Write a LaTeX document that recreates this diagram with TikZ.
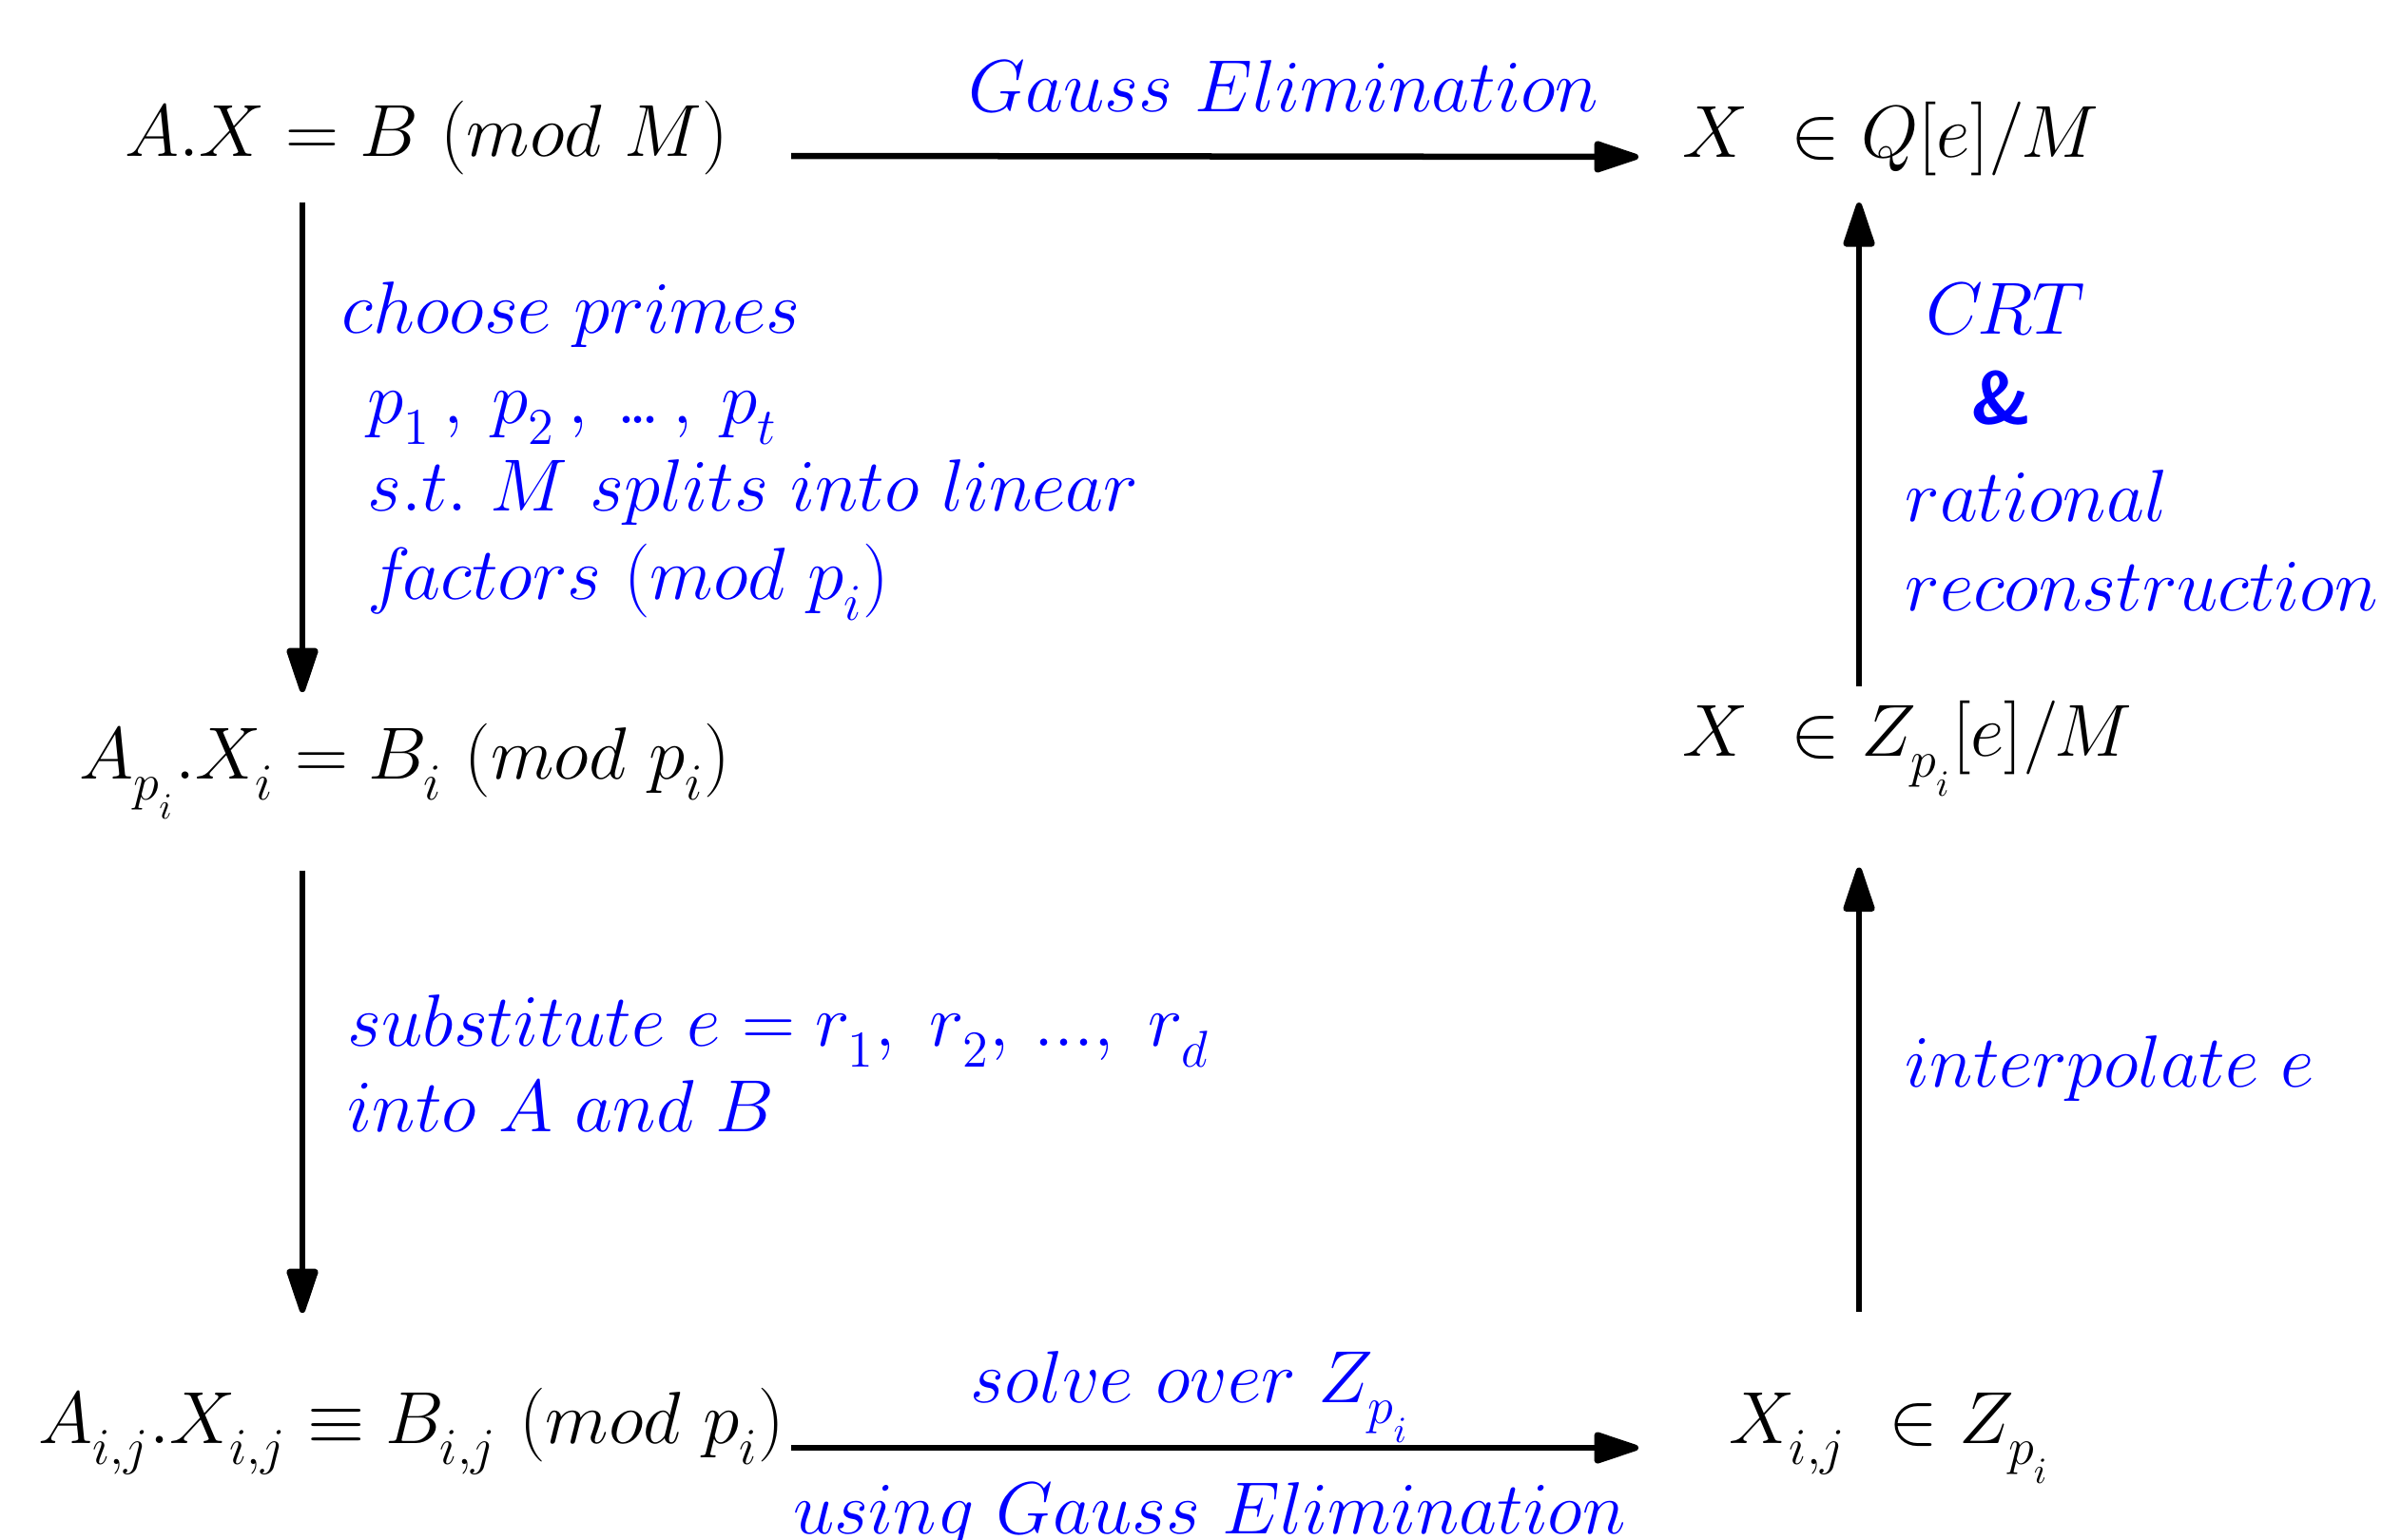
\RequirePackage{fix-cm}
\documentclass[tikz,border=0pt]{standalone}
\usetikzlibrary{arrows.meta}
% lower subscripts
\everymath{\fontdimen16\textfont2=6.5pt \fontdimen17\textfont2=6.5pt
  \fontdimen16\scriptfont2=5.7pt \fontdimen17\scriptfont2=5.7pt\relax}
\begin{document}
\begin{tikzpicture}[
    eqn/.style={inner sep=0pt, anchor=base west, font=\fontsize{22.1}{26}\selectfont},
    lbl/.style={eqn, text=blue},
    arr/.style={line width=1.85pt, -{Triangle[length=5.4mm,width=3.4mm,round]}}
  ]
    % Frame
    \useasboundingbox (0,0) rectangle (25.05,-16.19);
    % Columns of the arrows
    \coordinate (lcol) at (3.18,0);
    \coordinate (rcol) at (19.55,0);
    \coordinate (hl) at (8.32,0);
    \coordinate (hr) at (17.23,0);
    % Equations
    \node[eqn] (ax) at (1.31,-1.64) {$A.X = B\ (mod\ M)$};
    \node[eqn] (xq) at (17.69,-1.65) {$X\ \in Q[e]/M$};
    \node[eqn] (api) at (0.83,-8.19) {$A_{p_i}.X_i = B_i\ (mod\ p_i)$};
    \node[eqn] (xzp) at (17.69,-7.95) {$X\ \in Z_{p_i}[e]/M$};
    \node[eqn] (aij) at (0.40,-15.18) {$A_{i,j}.X_{i,j} \equiv B_{i,j}\ (mod\ p_i)$};
    \node[eqn] (xij) at (18.18,-15.18) {$X_{i,j}\ \in Z_{p_i}$};
    % Labels (top and bottom)
    \node[lbl] (gauss) at (10.18,-1.17) {$Gauss\ Elimination$};
    \node[lbl] (solve) at (10.20,-14.75) {$solve\ over\ Z_{p_i}$};
    \node[lbl] (using) at (8.34,-16.13) {$using\ Gauss\ Elimination$};
    % Labels (left)
    \node[lbl] (choose) at (3.59,-3.50) {$choose\ primes$};
    \node[lbl] (plist) at (3.86,-4.45) {$p_1\,,\:p_2\,,\:.\mkern-2mu.\mkern-2mu.\,,\:p_t$};
    \node[lbl] (splits) at (3.86,-5.37) {$s.t.\ M\ splits\ into\ linear$};
    \node[lbl] (factors) at (3.86,-6.30) {$f\mkern-2mu actors\ (mod\ p_i)$};
    \node[lbl] (subs) at (3.65,-11.00) {$substitute\ e = r_1,\ r_2,\,...,\ r_d$};
    \node[lbl] (intoab) at (3.65,-11.90) {$into\ A\ and\ B$};
    % Labels (right)
    \node[lbl] (crt) at (20.25,-3.51) {$C\mkern-1.5mu RT$};
    \node[lbl] (amp) at (20.72,-4.45) {\textsf{\bfseries\&}};
    \node[lbl] (ratl) at (20.03,-5.48) {$rational$};
    \node[lbl] (recon) at (20.03,-6.42) {$reconstruction$};
    \node[lbl] (interp) at (20.03,-11.43) {$interpolate\ e$};
    % Arrows
    \draw[arr] (ax.base -| hl) -- (xq.base -| hr);
    \draw[arr] ([yshift=-0.05cm]aij.base -| hl) -- ([yshift=-0.05cm]xij.base -| hr);
    \draw[arr, shorten <=0.29cm, shorten >=0.32cm] (ax.south -| lcol) -- (api.north -| lcol);
    \draw[arr, shorten <=0.53cm, shorten >=0.78cm] (api.south -| lcol) -- (aij.north -| lcol);
    \draw[arr, shorten <=0.84cm, shorten >=0.74cm] (xij.north -| rcol) -- (xzp.south -| rcol);
    \draw[arr, shorten <=0.14cm, shorten >=0.28cm] (xzp.north -| rcol) -- (xq.south -| rcol);
\end{tikzpicture}
\end{document}
